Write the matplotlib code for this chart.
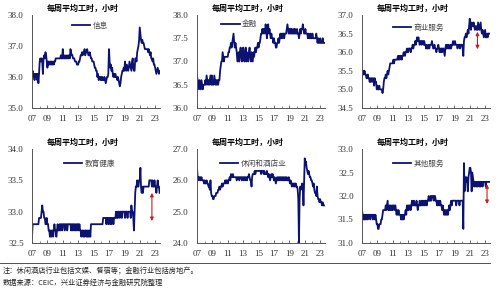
import numpy as np
import pandas as pd
import matplotlib
matplotlib.use('Agg')
import matplotlib.pyplot as plt
import matplotlib.dates as mdates

plt.rcParams['font.family'] = ['Liberation Serif', 'Noto Sans CJK SC']
plt.rcParams['axes.unicode_minus'] = False

# 月度数据 2007-01 ~ 2023-08
xinxi = [36.1, 36.2, 36.0, 36.1, 35.9, 36.1, 36.0, 36.1, 35.9, 36.1, 35.8, 36.1,
         36.5, 36.6, 36.5, 36.6, 36.5, 36.1, 36.6, 36.7, 36.6, 36.8, 36.7, 36.5,
         36.3, 36.5, 36.4, 36.5, 36.4, 36.5, 36.4, 36.5, 36.4, 36.5, 36.4, 36.5,
         36.5, 36.6, 36.6, 36.6, 36.6, 36.6, 36.6, 36.6, 36.6, 36.7, 36.6, 36.6,
         36.9, 36.6, 36.7, 36.6, 36.6, 36.7, 36.6, 36.6, 36.7, 36.6, 36.7, 36.6,
         36.9, 36.8, 36.7, 36.7, 36.6, 36.6, 36.6, 36.5, 36.5, 36.5, 36.4, 36.4,
         36.4, 36.5, 36.5, 36.6, 36.7, 36.7, 36.8, 36.7, 36.8, 36.8, 36.9, 36.7,
         36.8, 36.8, 36.9, 36.8, 36.7, 36.7, 36.8, 36.7, 36.6, 36.6, 36.5, 36.5,
         36.5, 36.4, 36.3, 36.3, 36.2, 36.2, 36.0, 36.1, 35.9, 36.0, 36.0, 35.9,
         36.0, 35.9, 36.0, 35.9, 35.9, 36.0, 35.9, 35.8, 35.9, 36.0, 36.0, 36.1,
         36.9, 36.5, 36.3, 36.4, 36.2, 36.3, 36.1, 36.0, 36.1, 36.0, 36.1, 36.0,
         36.0, 35.9, 36.0, 35.9, 35.8, 35.7, 35.8, 36.0, 36.1, 36.2, 36.2, 36.3,
         36.2, 36.5, 36.3, 36.2, 36.4, 36.3, 36.2, 36.3, 36.5, 36.4, 36.3, 36.2,
         36.5, 36.6, 36.3, 36.2, 36.2, 36.6, 36.6, 36.5, 36.8, 36.9, 37.0, 37.2,
         37.6, 37.4, 37.2, 37.1, 37.2, 37.1, 37.1, 37.0, 36.9, 36.9, 36.9, 36.9,
         36.9, 36.8, 36.9, 36.8, 36.7, 36.8, 36.6, 36.6, 36.5, 36.6, 36.4, 36.4,
         36.3, 36.2, 36.1, 36.2, 36.3, 36.2, 36.1, 36.2]

jinrong = [36.7, 36.6, 36.5, 36.4, 36.6, 36.5, 36.4, 36.6, 36.5, 36.4, 36.5, 36.5,
           36.5, 36.6, 36.5, 36.7, 36.6, 36.5, 36.6, 36.5, 36.6, 36.7, 36.5, 36.7,
           36.5, 36.6, 36.5, 36.7, 36.6, 36.5, 36.6, 36.5, 36.6, 36.5, 36.6, 36.6,
           36.8, 36.9, 37.0, 37.0, 37.2, 37.1, 37.0, 37.1, 37.1, 37.1, 37.1, 37.1,
           37.1, 37.2, 37.2, 37.3, 37.3, 37.4, 37.3, 37.4, 37.5, 37.6, 37.4, 37.3,
           37.4, 37.3, 37.2, 37.0, 37.1, 37.2, 37.0, 37.2, 37.3, 37.1, 37.0, 37.2,
           37.3, 37.1, 37.0, 37.2, 37.3, 37.0, 37.2, 37.1, 37.0, 37.2, 37.3, 37.1,
           37.0, 37.2, 37.1, 37.0, 37.2, 37.1, 37.2, 37.3, 37.2, 37.3, 37.3, 37.4,
           37.3, 37.4, 37.4, 37.5, 37.6, 37.6, 37.7, 37.6, 37.7, 37.7, 37.6, 37.8,
           37.7, 37.5, 37.7, 37.8, 37.6, 37.7, 37.6, 37.5, 37.6, 37.5, 37.5, 37.4,
           37.5, 37.4, 37.4, 37.3, 37.3, 37.4, 37.4, 37.5, 37.4, 37.5, 37.6, 37.5,
           37.6, 37.5, 37.6, 37.6, 37.5, 37.6, 37.6, 37.6, 37.7, 37.8, 37.7, 37.6,
           37.7, 37.6, 37.7, 37.6, 37.7, 37.6, 37.6, 37.7, 37.6, 37.7, 37.6, 37.6,
           37.7, 37.6, 37.6, 37.5, 37.6, 37.7, 37.6, 37.7, 37.7, 37.8, 37.7, 37.6,
           37.6, 37.7, 37.6, 37.6, 37.6, 37.5, 37.6, 37.5, 37.5, 37.6, 37.5, 37.5,
           37.6, 37.5, 37.5, 37.5, 37.5, 37.5, 37.6, 37.5, 37.4, 37.5, 37.4, 37.4,
           37.5, 37.4, 37.4, 37.4, 37.5, 37.4, 37.4, 37.4]

shangye = [35.3, 35.5, 35.5, 35.4, 35.5, 35.4, 35.4, 35.3, 35.3, 35.4, 35.3, 35.3,
           35.2, 35.3, 35.2, 35.3, 35.3, 35.2, 35.3, 35.1, 35.3, 35.2, 35.2, 35.0,
           35.1, 35.0, 35.0, 35.1, 35.0, 35.0, 35.0, 35.0, 34.9, 35.0, 35.2, 35.3,
           35.3, 35.4, 35.3, 35.4, 35.5, 35.4, 35.5, 35.6, 35.7, 35.7, 35.7, 35.7,
           35.7, 35.8, 35.7, 35.8, 35.8, 35.8, 35.8, 35.8, 35.9, 35.8, 35.9, 35.8,
           35.9, 35.9, 35.8, 35.9, 35.9, 36.0, 36.0, 35.9, 36.0, 36.0, 36.1, 36.0,
           36.0, 36.1, 36.1, 36.1, 36.0, 36.1, 36.1, 36.2, 36.1, 36.2, 36.2, 36.3,
           36.2, 36.3, 36.4, 36.3, 36.4, 36.3, 36.2, 36.3, 36.3, 36.2, 36.3, 36.3,
           36.2, 36.3, 36.2, 36.2, 36.1, 36.2, 36.1, 36.1, 36.2, 36.1, 36.2, 36.2,
           36.2, 36.3, 36.2, 36.1, 36.1, 36.2, 36.1, 36.1, 36.0, 36.1, 36.1, 36.2,
           36.1, 36.0, 36.1, 36.0, 36.1, 36.0, 36.1, 36.1, 36.0, 35.9, 36.1, 36.2,
           36.1, 36.2, 36.1, 36.2, 36.1, 36.1, 36.2, 36.1, 36.2, 36.2, 36.3, 36.2,
           36.2, 36.3, 36.2, 36.2, 36.2, 36.1, 36.2, 36.2, 36.2, 36.1, 36.2, 36.2,
           36.2, 36.1, 35.9, 36.3, 36.4, 36.4, 36.5, 36.4, 36.5, 36.6, 36.5, 36.7,
           36.9, 36.7, 36.6, 36.8, 36.7, 36.7, 36.8, 36.7, 36.6, 36.7, 36.7, 36.6,
           36.6, 36.8, 36.7, 36.6, 36.7, 36.8, 36.6, 36.5, 36.6, 36.5, 36.4, 36.5,
           36.6, 36.4, 36.4, 36.5, 36.4, 36.5, 36.5, 36.5]

jiaoyu = [32.6, 32.8, 32.8, 32.8, 32.8, 32.8, 32.8, 32.8, 32.8, 32.8, 32.8, 32.9,
          32.9, 32.9, 32.9, 33.0, 33.1, 33.0, 33.0, 32.9, 32.9, 32.8, 32.8, 32.9,
          32.8, 32.8, 32.7, 32.7, 32.6, 32.7, 32.6, 32.7, 32.7, 32.6, 32.7, 32.8,
          32.7, 32.7, 32.6, 32.7, 32.8, 32.7, 32.7, 32.8, 32.7, 32.8, 32.8, 32.7,
          32.8, 32.8, 32.8, 32.7, 32.8, 32.8, 32.8, 32.7, 32.8, 32.8, 32.8, 32.8,
          32.8, 32.7, 32.8, 32.7, 32.8, 32.8, 32.7, 32.8, 32.7, 32.8, 32.7, 32.8,
          32.8, 32.7, 32.8, 32.7, 32.7, 32.6, 32.7, 32.7, 32.6, 32.7, 32.6, 32.7,
          32.7, 32.6, 32.7, 32.6, 32.7, 32.6, 32.7, 32.6, 32.8, 32.8, 32.8, 32.8,
          32.8, 32.8, 32.8, 32.8, 32.8, 32.8, 32.8, 32.8, 32.8, 32.8, 32.8, 32.8,
          32.8, 32.8, 32.8, 32.9, 32.9, 32.9, 32.9, 32.9, 32.8, 32.9, 32.9, 32.8,
          32.9, 32.9, 32.8, 32.9, 32.8, 32.9, 32.9, 32.8, 32.9, 32.9, 32.9, 33.0,
          32.9, 33.0, 32.9, 33.0, 33.0, 32.9, 33.0, 33.0, 32.9, 33.0, 33.0, 33.0,
          33.0, 32.9, 33.0, 33.0, 33.0, 32.9, 33.0, 33.0, 33.0, 33.0, 32.9, 33.1,
          33.0, 33.0, 32.9, 32.7, 33.0, 33.3, 33.4, 33.4, 33.5, 33.4, 33.4, 33.5,
          33.5, 33.7, 33.4, 33.3, 33.4, 33.3, 33.4, 33.4, 33.4, 33.4, 33.4, 33.4,
          33.4, 33.4, 33.4, 33.5, 33.5, 33.5, 33.5, 33.4, 33.5, 33.4, 33.4, 33.5,
          33.4, 33.4, 33.3, 33.4, 33.5, 33.4, 33.4, 33.3]

xiuxian = [26.4, 26.1, 26.1, 26.0, 26.1, 26.1, 26.0, 26.1, 26.0, 26.0, 26.0, 25.9,
           26.0, 25.9, 25.9, 26.0, 25.9, 25.9, 25.8, 25.8, 25.7, 26.0, 25.6, 25.5,
           25.5, 25.4, 25.4, 25.5, 25.5, 25.5, 25.6, 25.6, 25.6, 25.7, 25.7, 25.8,
           25.7, 25.8, 25.8, 25.9, 25.8, 25.9, 25.9, 25.9, 26.0, 25.9, 26.0, 26.0,
           25.9, 26.0, 26.0, 26.1, 26.0, 26.2, 26.1, 26.1, 26.2, 26.1, 26.1, 26.1,
           26.1, 26.1, 26.0, 26.1, 26.1, 26.1, 26.0, 26.1, 26.1, 26.1, 26.0, 26.1,
           26.1, 26.0, 26.1, 26.1, 26.0, 26.1, 26.0, 26.1, 26.1, 26.2, 26.1, 26.0,
           26.0, 25.8, 26.1, 26.2, 26.2, 26.2, 26.3, 26.2, 26.3, 26.3, 26.3, 26.3,
           26.3, 26.3, 26.3, 26.3, 26.2, 26.3, 26.3, 26.3, 26.2, 26.3, 26.2, 26.2,
           26.2, 26.3, 26.2, 26.1, 26.2, 26.1, 26.0, 26.1, 26.2, 26.1, 26.2, 26.1,
           26.0, 26.1, 26.0, 25.9, 26.0, 26.1, 26.0, 26.1, 26.0, 26.1, 26.1, 26.0,
           26.1, 26.0, 26.1, 26.0, 26.1, 26.0, 26.1, 26.0, 26.1, 26.0, 26.0, 26.1,
           26.0, 25.9, 26.0, 25.9, 25.8, 25.9, 25.9, 25.8, 25.9, 25.8, 25.9, 25.8,
           25.8, 25.7, 25.4, 24.0, 25.4, 25.8, 25.7, 25.8, 25.9, 25.8, 25.2, 26.0,
           26.7, 26.5, 26.6, 26.4, 26.3, 26.2, 26.3, 26.2, 26.1, 26.1, 26.0, 26.0,
           25.9, 25.8, 25.9, 25.7, 25.6, 25.6, 25.5, 25.8, 25.5, 25.4, 25.4, 25.3,
           25.4, 25.3, 25.3, 25.2, 25.3, 25.2, 25.2, 25.2]

qita = [31.7, 31.6, 31.5, 31.6, 31.5, 31.6, 31.5, 31.6, 31.6, 31.5, 31.6, 31.6,
        31.6, 31.5, 31.6, 31.6, 31.6, 31.5, 31.6, 31.6, 31.5, 31.6, 31.5, 31.4,
        31.4, 31.3, 31.3, 31.4, 31.4, 31.4, 31.5, 31.5, 31.6, 31.7, 31.7, 31.7,
        31.7, 31.8, 31.7, 31.8, 31.9, 31.7, 31.7, 31.8, 31.7, 31.8, 31.7, 31.8,
        31.7, 31.8, 31.8, 31.7, 31.8, 31.7, 31.6, 31.7, 31.6, 31.7, 31.6, 31.6,
        31.6, 31.5, 31.6, 31.5, 31.6, 31.5, 31.6, 31.6, 31.7, 31.6, 31.8, 31.7,
        31.8, 31.7, 31.8, 31.8, 31.7, 31.8, 31.9, 31.8, 31.8, 31.9, 31.8, 31.8,
        31.8, 31.9, 31.8, 31.7, 31.8, 31.8, 31.9, 31.8, 31.8, 31.9, 31.8, 31.9,
        31.8, 31.9, 31.8, 31.9, 31.9, 31.8, 31.9, 31.9, 32.0, 31.9, 31.9, 32.0,
        31.9, 32.0, 32.0, 32.0, 31.9, 32.0, 32.0, 31.9, 31.9, 31.8, 31.9, 31.8,
        31.9, 31.8, 31.9, 31.8, 31.8, 31.7, 31.8, 31.7, 31.6, 31.7, 31.6, 31.7,
        31.6, 31.7, 31.6, 31.7, 31.8, 31.7, 31.8, 31.9, 31.8, 31.9, 31.9, 31.9,
        31.9, 31.9, 31.9, 31.8, 31.9, 31.9, 31.9, 31.9, 31.8, 31.9, 31.9, 31.9,
        31.9, 31.9, 31.3, 32.7, 32.1, 32.4, 32.3, 32.4, 32.3, 32.1, 32.4, 32.5,
        32.6, 32.6, 32.5, 32.1, 32.5, 32.4, 32.3, 32.2, 32.3, 32.3, 32.2, 32.3,
        32.2, 32.3, 32.3, 32.2, 32.3, 32.2, 32.3, 32.3, 32.2, 32.3, 32.3, 32.3,
        32.3, 32.2, 32.3, 32.3, 32.3, 32.3, 32.3, 32.3]

names = ['信息', '金融', '商业服务', '教育健康', '休闲和酒店业', '其他服务']
series = [xinxi, jinrong, shangye, jiaoyu, xiuxian, qita]
ylims = [(35.0, 38.0), (36.0, 38.0), (34.5, 37.0), (32.5, 34.0), (24.0, 27.0), (31.0, 33.0)]
ysteps = [1.0, 0.5, 0.5, 0.5, 1.0, 0.5]
leg_pos = [(0.31, 0.88), (0.19, 0.90), (0.24, 0.86), (0.25, 0.84), (0.18, 0.84), (0.24, 0.84)]
# 红色箭头：(日期, 上端, 下端)
arrows = {2: ('2022-01-01', 36.55, 36.08), 3: ('2022-08-01', 33.3, 32.85),
          5: ('2023-04-01', 32.25, 31.83)}

dates = pd.date_range('2007-01-01', periods=len(xinxi), freq='MS')
xticks = [pd.Timestamp(f'{y}-01-01') for y in range(2007, 2024, 2)]
xminor = [pd.Timestamp(f'{y}-01-01') for y in range(2008, 2024, 2)]
navy = '#0c1270'
cjk = ['Noto Sans CJK SC', 'DejaVu Sans']

fig = plt.figure(figsize=(5, 2.89), dpi=100)
W, H = 500, 289
lefts = [32, 197, 362]
rows = [(15, 108), (149, 243)]

for i, (name, vals) in enumerate(zip(names, series)):
    r, c = divmod(i, 3)
    top, bot = rows[r]
    ax = fig.add_axes([lefts[c] / W, 1 - bot / H, 128 / W, (bot - top) / H])
    ax.plot(dates, vals, color=navy, lw=1.3, label=name)
    ax.set_ylim(*ylims[i])
    ax.set_yticks(np.arange(ylims[i][0], ylims[i][1] + 0.01, ysteps[i]))
    ax.yaxis.set_major_formatter(matplotlib.ticker.FormatStrFormatter('%.1f'))
    ax.set_xlim(pd.Timestamp('2007-01-01'), pd.Timestamp('2023-08-20'))
    ax.set_xticks(xticks)
    ax.set_xticks(xminor, minor=True)
    ax.xaxis.set_major_formatter(mdates.DateFormatter('%y'))
    for s in ['top', 'right']:
        ax.spines[s].set_visible(False)
    for s in ['left', 'bottom']:
        ax.spines[s].set_color('#555555')
        ax.spines[s].set_linewidth(0.7)
    ax.tick_params(axis='y', length=0, pad=6, labelsize=6.5, labelcolor='#333333')
    ax.tick_params(axis='x', which='major', direction='in', length=2, width=0.6,
                   pad=5, labelsize=6.5, labelcolor='#333333', color='#555555')
    ax.tick_params(axis='x', which='minor', direction='in', length=1.5, width=0.5,
                   color='#555555')
    leg = ax.legend(loc='center left', bbox_to_anchor=leg_pos[i], frameon=False,
                    handlelength=2.4, handletextpad=0.3, borderpad=0,
                    borderaxespad=0, prop={'family': cjk, 'size': 5.5})
    for t in leg.get_texts():
        t.set_color('#444444')
    if i in arrows:
        d, y1, y2 = arrows[i]
        ax.annotate('', xy=(pd.Timestamp(d), y2), xytext=(pd.Timestamp(d), y1),
                    arrowprops=dict(arrowstyle='<|-|>', color='#c81e1e', lw=0.8,
                                    mutation_scale=5, shrinkA=0, shrinkB=0))
    fig.text((lefts[c] - 32 + 82.5) / W, 1 - (top - 7) / H, '每周平均工时，小时',
             ha='center', va='center', fontsize=5.8, fontweight='bold', family=cjk)

fig.add_artist(plt.Line2D([0, 0.98], [1 - 263 / H, 1 - 263 / H], color='#333333', lw=0.6))
fig.text(0.005, 1 - 271 / H, '注：休闲酒店行业包括文娱、餐宿等；金融行业包括房地产。',
         ha='left', va='center', fontsize=5.2, family=cjk, color='#222222')
fig.text(0.005, 1 - 283 / H, '数据来源：CEIC，兴业证券经济与金融研究院整理',
         ha='left', va='center', fontsize=5.2, family=cjk, color='#222222')

fig.savefig('out.png', dpi=100)
